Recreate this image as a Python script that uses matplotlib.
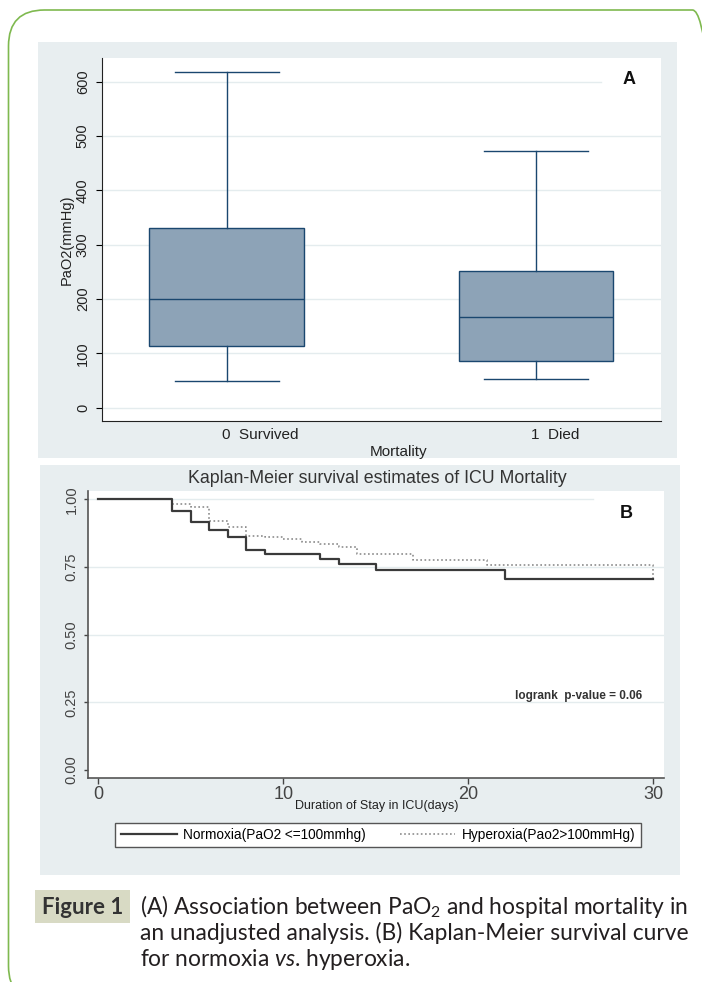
import matplotlib
matplotlib.use("Agg")
import matplotlib.pyplot as plt
from matplotlib.patches import Rectangle, FancyBboxPatch
import matplotlib.transforms as mtransforms

# panel A: PaO2 by mortality (box summary)
groups = ["0  Survived", "1  Died"]
q1 = [114, 86]
medians = [200, 166]
q3 = [330, 252]
whislo = [50, 52]
whishi = [617, 472]

# panel B: Kaplan-Meier steps
norm_days = [0, 4, 5, 6, 7, 8, 9, 12, 13, 15, 22, 30]
norm_surv = [1.0, 0.957, 0.915, 0.887, 0.861, 0.812, 0.798, 0.780, 0.761, 0.739, 0.706, 0.706]
hyp_days = [0, 4, 5, 6, 7, 8, 9, 10, 11, 12, 13, 14, 17, 21, 30]
hyp_surv = [1.0, 0.982, 0.973, 0.921, 0.899, 0.866, 0.862, 0.853, 0.841, 0.834, 0.823, 0.797, 0.776, 0.757, 0.70]

plt.rcParams["font.family"] = ["Liberation Sans", "DejaVu Sans"]
plt.rcParams["mathtext.fontset"] = "custom"
plt.rcParams["mathtext.rm"] = "Lato"
plt.rcParams["mathtext.it"] = "Lato:italic"

W, H = 702, 982
fig = plt.figure(figsize=(W / 100, H / 100), dpi=100)

def fx(px):
    return px / W

def fy(py):
    return 1 - py / H

panel_col = "#e8eef0"
grid_col = "#e4ecee"
navy = "#1a476f"

# outer green rounded frame (right and bottom edges run off the picture)
frame = FancyBboxPatch((0.085, -0.20), 7.20, 9.92, boxstyle="round,pad=0,rounding_size=0.36",
                       transform=fig.dpi_scale_trans, facecolor="none", edgecolor="#7fb94f",
                       linewidth=1.2, zorder=-10)
fig.add_artist(frame)

# gray panels behind the two graphs
fig.add_artist(Rectangle((fx(38), fy(458)), fx(677 - 38), (458 - 42) / H,
                         transform=fig.transFigure, facecolor=panel_col, edgecolor="none", zorder=-5))
fig.add_artist(Rectangle((fx(40), fy(875)), fx(680 - 40), (875 - 465) / H,
                         transform=fig.transFigure, facecolor=panel_col, edgecolor="none", zorder=-5))

# ---------------- panel A ----------------
ax1 = fig.add_axes([fx(101.7), fy(421), fx(661 - 101.7), (421 - 58) / H])
stats = []
for i in range(len(groups)):
    stats.append(dict(med=medians[i], q1=q1[i], q3=q3[i], whislo=whislo[i], whishi=whishi[i]))
ax1.bxp(stats, positions=[1, 2], widths=0.5, showfliers=False, patch_artist=True,
        capwidths=0.336,
        boxprops=dict(facecolor="#8da3b7", edgecolor=navy, linewidth=1.0),
        medianprops=dict(color=navy, linewidth=1.0),
        whiskerprops=dict(color=navy, linewidth=1.0),
        capprops=dict(color=navy, linewidth=1.0))
ax1.set_xlim(0.596, 2.404)
ax1.set_ylim(-24.5, 643.6)
yt = [0, 100, 200, 300, 400, 500, 600]
ax1.set_yticks(yt)
for v in yt:
    ax1.axhline(v, xmax=0.893 if v == 600 else 1, color=grid_col, lw=1.0, zorder=0)
ax1.tick_params(axis="y", labelrotation=90, length=4.5, width=0.8, labelsize=10.5, pad=4,
                labelcolor="#222")
for lab in ax1.get_yticklabels():
    lab.set_va("center")
ax1.set_xticks([])
ax1.spines["top"].set_visible(False)
ax1.spines["right"].set_visible(False)
ax1.spines["left"].set_color("#222")
ax1.spines["bottom"].set_color("#222")
trans = mtransforms.blended_transform_factory(ax1.transData, ax1.transAxes)
for i, g in enumerate(groups):
    ax1.text(i + 1 - 0.016, -0.0386, g, transform=trans, ha="left", va="center", fontsize=11,
             color="#222")
ax1.text(0.531, -0.0854, "Mortality", transform=ax1.transAxes, ha="center", va="center",
         fontsize=11, color="#222")
ax1.text(-0.0626, 0.5, "PaO2(mmHg)", transform=ax1.transAxes, rotation=90, ha="center",
         va="center", fontsize=10.5, color="#222")
ax1.text(0.943, 0.942, "A", transform=ax1.transAxes, ha="center", va="center",
         fontsize=13, fontweight="bold", color="#111")

# ---------------- panel B ----------------
ax2 = fig.add_axes([fx(88.3), fy(777.7), fx(664.3 - 88.3), (777.7 - 491) / H])
ax2.set_xlim(-0.54, 30.6)
ax2.set_ylim(-0.028, 1.031)
yt2 = [0.0, 0.25, 0.5, 0.75, 1.0]
for v in yt2[1:]:
    ax2.axhline(v, xmax=0.876 if v == 1.0 else 1, color=grid_col, lw=1.0, zorder=0)
ax2.step(hyp_days, hyp_surv, where="post", color="#8c8c8c", lw=1.2, linestyle=(0, (1, 1.5)),
         label="Hyperoxia(Pao2>100mmHg)")
ax2.step(norm_days, norm_surv, where="post", color="#3a3a3a", lw=1.6,
         label="Normoxia(PaO2 <=100mmhg)")
ax2.set_yticks(yt2)
ax2.set_yticklabels(["%.2f" % v for v in yt2])
ax2.set_xticks([0, 10, 20, 30])
ax2.tick_params(axis="y", labelrotation=90, length=3, width=1, labelsize=10.5, pad=4,
                colors="#444")
for lab in ax2.get_yticklabels():
    lab.set_va("center")
ax2.tick_params(axis="x", length=4.5, width=1, labelsize=13, pad=1.5, colors="#444")
ax2.spines["top"].set_visible(False)
ax2.spines["right"].set_visible(False)
ax2.spines["left"].set_color("#555")
ax2.spines["bottom"].set_color("#555")
ax2.spines["left"].set_linewidth(1.2)
ax2.spines["bottom"].set_linewidth(1.2)
ax2.text(0.501, 1.042, "Kaplan-Meier survival estimates of ICU Mortality", transform=ax2.transAxes,
         ha="center", va="center", fontsize=12.8, color="#333")
ax2.text(0.5, -0.0987, "Duration of Stay in ICU(days)", transform=ax2.transAxes, ha="center",
         va="center", fontsize=9, color="#222")
ax2.text(0.9335, 0.923, "B", transform=ax2.transAxes, ha="center", va="center",
         fontsize=13, fontweight="bold", color="#111")
ax2.text(0.851, 0.286, "logrank  p-value = 0.06", transform=ax2.transAxes, ha="center",
         va="center", fontsize=8.5, fontweight="bold", color="#333")

handles, labels = ax2.get_legend_handles_labels()
leg = fig.legend(handles[::-1], labels[::-1], loc="center", ncol=2,
                 bbox_to_anchor=(fx(378), fy(835)), borderaxespad=0,
                 fancybox=False, edgecolor="#555", framealpha=1, fontsize=9.8, handlelength=4.1,
                 handletextpad=0.45, borderpad=0.4, columnspacing=2.5)
leg.get_frame().set_linewidth(1.0)

# ---------------- caption ----------------
fig.add_artist(Rectangle((fx(35), fy(923)), fx(130 - 35), (923 - 890) / H,
                         transform=fig.transFigure, facecolor="#d8dac4", edgecolor="none"))
fig.text(fx(82.5), fy(907), "Figure 1", ha="center", va="center", fontsize=16,
         fontweight="bold", color="#333", family="Lato")
cap_lines = [
    "(A) Association between PaO$_{2}$ and hospital mortality in",
    "an unadjusted analysis. (B) Kaplan-Meier survival curve",
    "for normoxia $vs$. hyperoxia.",
]
cap_y = [907, 933, 960]
for line, yy in zip(cap_lines, cap_y):
    fig.text(fx(140), fy(yy), line, ha="left", va="center", fontsize=16.4, color="#231f20",
             family="Lato")

fig.savefig("out.png", dpi=100)
